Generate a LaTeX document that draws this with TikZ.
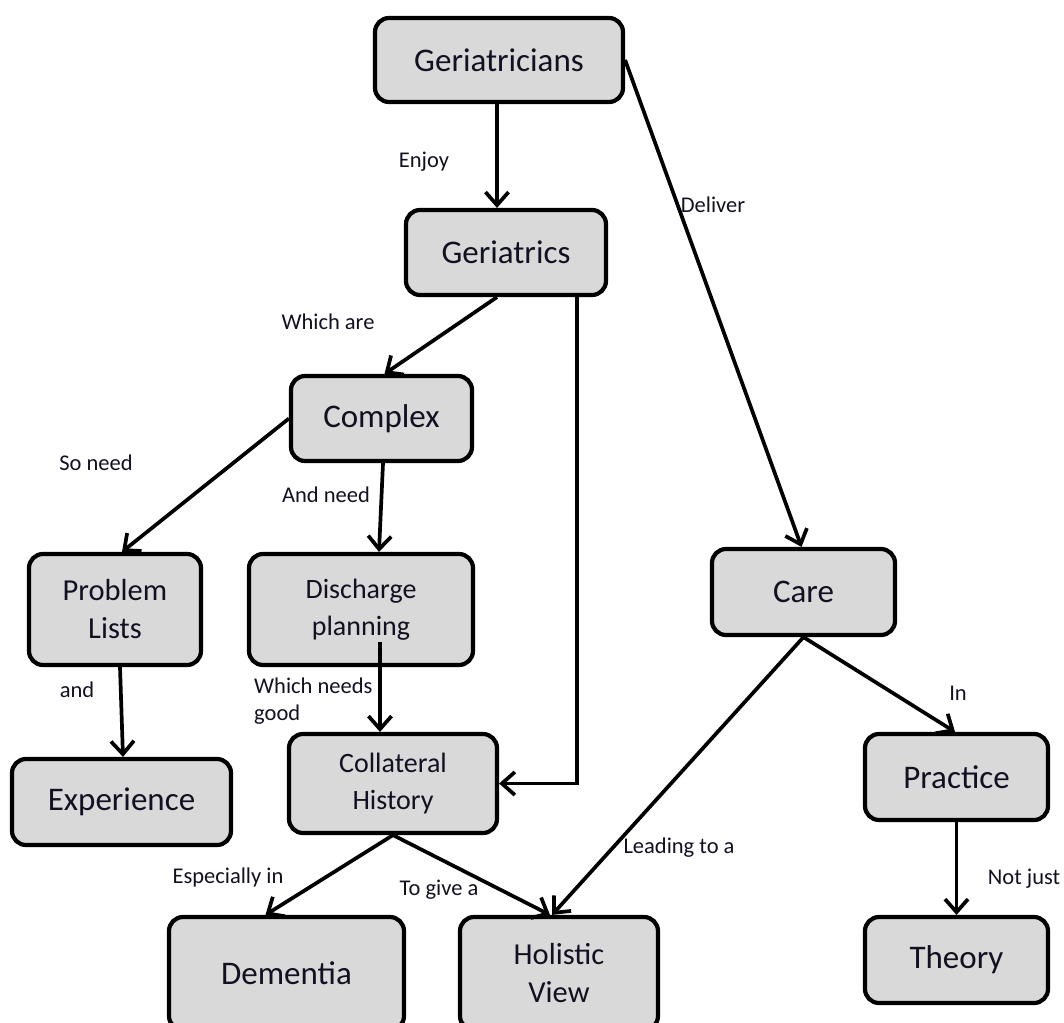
\documentclass[tikz,border=0pt]{standalone}
\usepackage{fontspec}
\setmainfont{Carlito}
\usetikzlibrary{arrows.meta}
\definecolor{boxfill}{HTML}{D9D9D9}
\definecolor{ink}{HTML}{111122}
\begin{document}
\begin{tikzpicture}[x=1pt,y=-1pt,
  box/.style={draw=black,line width=4.2pt,fill=boxfill,rounded corners=14pt,
    inner sep=0pt,align=center,text=ink,font=\fontsize{33}{40}\selectfont},
  boxs/.style={box,font=\fontsize{30.5}{38}\selectfont},
  boxt/.style={box,font=\fontsize{28}{37}\selectfont},
  lbl/.style={inner sep=0pt,text=ink,font=\fontsize{22.5}{27}\selectfont},
  arr/.style={line width=3.7pt,-{Straight Barb[length=13pt,width=23pt]}}]
\useasboundingbox (0,0) rectangle (1064,1022);
\clip (0,0) rectangle (1064,1022);
% boxes
\node[box,minimum width=248pt,minimum height=84pt] (gcians) at (499,60) {Geriatricians};
\node[box,minimum width=200pt,minimum height=85pt] (gics) at (506,252.5) {Geriatrics};
\node[box,minimum width=181pt,minimum height=85pt] (complex) at (381.5,418.5) {Complex};
\node[boxs,minimum width=172pt,minimum height=111pt] (prob) at (115,609.5) {Problem\\Lists};
\node[boxt,minimum width=224pt,minimum height=111pt] (disch) at (361,609.5) {Discharge\\planning};
\node[box,minimum width=183pt,minimum height=86pt] (care) at (803.5,592) {Care};
\node[box,minimum width=219pt,minimum height=86pt] (exper) at (121.5,802) {Experience};
\node[boxt,minimum width=208pt,minimum height=99pt] (coll) at (393,783.5) {Collateral\\History};
\node[box,minimum width=183pt,minimum height=86pt] (pract) at (956.5,777) {Practice};
\node[box,minimum width=183pt,minimum height=86pt] (theory) at (956.5,960) {Theory};
\node[box,minimum width=235pt,minimum height=113pt] (dem) at (286.5,973.5) {Dementia};
\node[boxs,minimum width=198pt,minimum height=113pt] (hol) at (559,973.5) {Holistic\\View};
% connectors
\draw[arr] ([xshift=-2pt]gcians.south) -- ([xshift=-9pt]gics.north);
\draw[arr] (gcians.east) -- ([xshift=-2pt]care.north);
\draw[arr] ([xshift=-9pt]gics.south) -- ([xshift=3pt]complex.north);
\draw[arr] ([xshift=71pt]gics.south) |- (coll.east);
\draw[arr] (complex.west) -- ([xshift=7pt]prob.north);
\draw[arr] ([xshift=1.5pt]complex.south) -- ([xshift=18pt]disch.north);
\draw[arr] ([xshift=5pt]prob.south) -- ([xshift=1.5pt]exper.north);
\draw[arr] ([xshift=19pt,yshift=25pt]disch.south) -- ([xshift=-13pt]coll.north);
\draw[arr] (coll.south) -- ([xshift=-21pt]dem.north);
\draw[arr] (coll.south) -- ([xshift=-9pt]hol.north);
\draw[arr] (care.south) -- ([xshift=-7pt]hol.north);
\draw[arr] (care.south) -- ([xshift=-1.5pt]pract.north);
\draw[arr] (pract.south) -- (theory.north);
% labels
\node[lbl] (l1) at (424,162) {Enjoy};
\node[lbl] (l2) at (713,205) {Deliver};
\node[lbl] (l3) at (328,322) {Which are};
\node[lbl] (l4) at (96,463) {So need};
\node[lbl] (l5) at (326,495) {And need};
\node[lbl,align=left,anchor=west] (l6) at (254,701) {Which needs\\good};
\node[lbl] (l7) at (77,690) {and};
\node[lbl] (l8) at (228,877) {Especially in};
\node[lbl] (l9) at (439,890) {To give a};
\node[lbl] (l10) at (679,848) {Leading to a};
\node[lbl] (l11) at (958,693) {In};
\node[lbl] (l12) at (1024,879) {Not just};
\end{tikzpicture}
\end{document}
